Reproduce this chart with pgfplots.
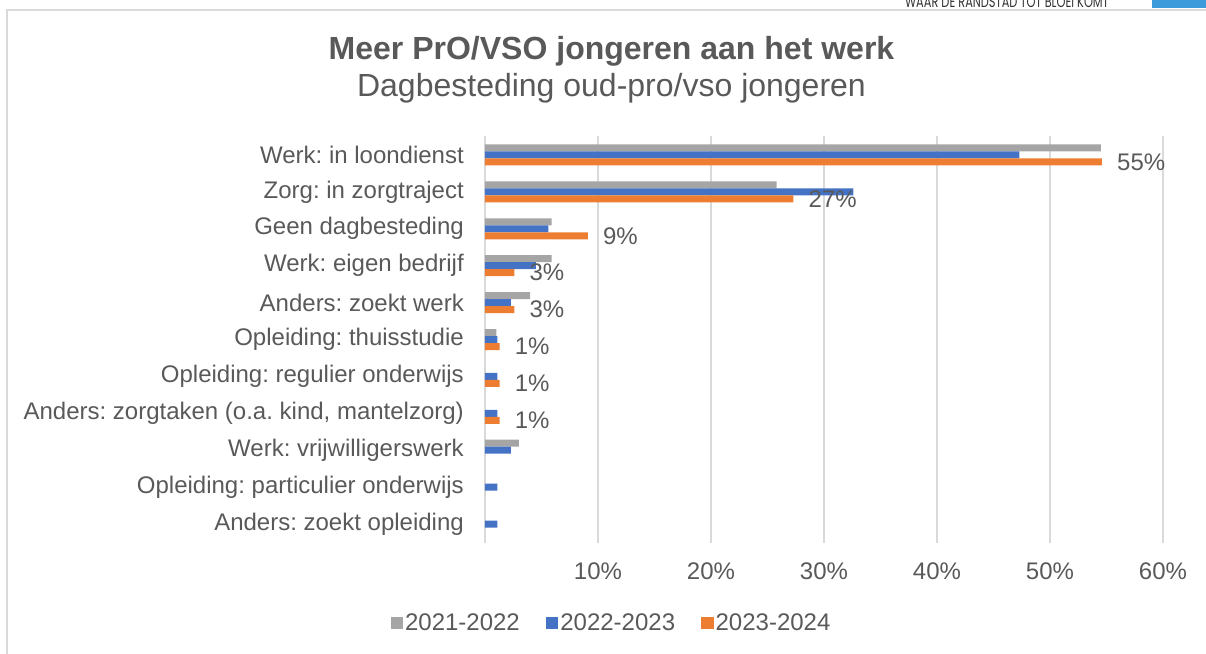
\documentclass[border=0pt]{standalone}
\usepackage{pgfplots}
\pgfplotsset{compat=1.18}
\usepackage{fontspec}
\setmainfont{Liberation Sans}
\newfontfamily\headfont{Poppins}

\definecolor{c21}{HTML}{A5A5A5}
\definecolor{c22}{HTML}{4472C4}
\definecolor{c23}{HTML}{ED7D31}
\definecolor{txt}{HTML}{595959}
\definecolor{gridgray}{HTML}{D9D9D9}
\definecolor{hdr}{HTML}{3C9BDB}

\begin{document}
\frenchspacing
\begin{tikzpicture}[x=1pt,y=1pt]
% reference pixel (px,py) -> (px-485, 542.5-py)
\path[use as bounding box] (-485,-110.5) rectangle (721,542.5);
\draw[gridgray, line width=1.7pt] (-477.7,-120) -- (-477.7,532.5) -- (730,532.5);
\fill[hdr] (667,534.2) rectangle (730,550);
\node[anchor=base, text=black!80, font=\headfont\fontsize{16}{18}\selectfont,
  xscale=0.71, inner sep=0pt]
  at (522,534.5) {WAAR DE RANDSTAD TOT BLOEI KOMT};

\begin{axis}[
  at={(0,0)}, anchor=south west,
  scale only axis, width=678pt, height=406pt,
  xbar, bar width=7pt,
  xmin=0, xmax=60, ymin=-0.5, ymax=10.5,
  xtick={0,10,...,60},
  xticklabels={,10\%,20\%,30\%,40\%,50\%,60\%},
  ytick={0,...,10},
  yticklabels={Anders: zoekt opleiding,
    Opleiding: particulier onderwijs,
    Werk: vrijwilligerswerk,
    {Anders: zorgtaken (o.a. kind, mantelzorg)},
    Opleiding: regulier onderwijs,
    Opleiding: thuisstudie,
    Anders: zoekt werk,
    Werk: eigen bedrijf,
    Geen dagbesteding,
    Zorg: in zorgtraject,
    Werk: in loondienst},
  major tick length=0pt,
  axis line style={draw=none},
  xmajorgrids, grid style={gridgray, line width=1.2pt},
  tick label style={font=\fontsize{24}{28}\selectfont, text=txt},
  yticklabel style={anchor=east, inner sep=0pt, xshift=-21pt},
  xticklabel style={anchor=north, inner sep=0pt, yshift=-20pt},
  legend columns=-1,
  legend style={at={(0.1866,-0.1983)}, anchor=center, draw=none, fill=none,
    font=\fontsize{24}{28}\selectfont, text=txt, inner sep=0pt,
    /tikz/every even column/.append style={column sep=24pt}},
  legend image code/.code={\fill[#1] (0pt,-6.25pt) rectangle (12.5pt,6.25pt);},
]
\addplot[fill=c21, draw=none, bar shift=7pt] coordinates {
  (54.5,10) (25.8,9) (5.9,8) (5.9,7) (4.0,6) (1.0,5) (3.0,2)};
\addplot[fill=c22, draw=none, bar shift=0pt] coordinates {
  (47.3,10) (32.6,9) (5.6,8) (4.5,7) (2.3,6) (1.1,5) (1.1,4) (1.1,3)
  (2.3,2) (1.1,1) (1.1,0)};
\addplot[fill=c23, draw=none, bar shift=-7pt, point meta=x,
  nodes near coords={\pgfmathprintnumber[fixed,precision=0]{\pgfplotspointmeta}\%},
  nodes near coords style={anchor=west, inner sep=0pt, xshift=15pt,
    font=\fontsize{24}{28}\selectfont, text=txt,
    /pgf/number format/assume math mode=true}] coordinates {
  (54.6,10) (27.3,9) (9.1,8) (2.6,7) (2.6,6) (1.3,5) (1.3,4) (1.3,3)};
\legend{2021-2022,2022-2023,2023-2024}
\end{axis}

\node[anchor=base, text=txt, font=\bfseries\fontsize{32}{38}\selectfont]
  at (126.5,482.5) {Meer PrO/VSO jongeren aan het werk};
\node[anchor=base, text=txt, font=\fontsize{32}{38}\selectfont]
  at (126.5,445.8) {Dagbesteding oud-pro/vso jongeren};
\end{tikzpicture}
\end{document}
